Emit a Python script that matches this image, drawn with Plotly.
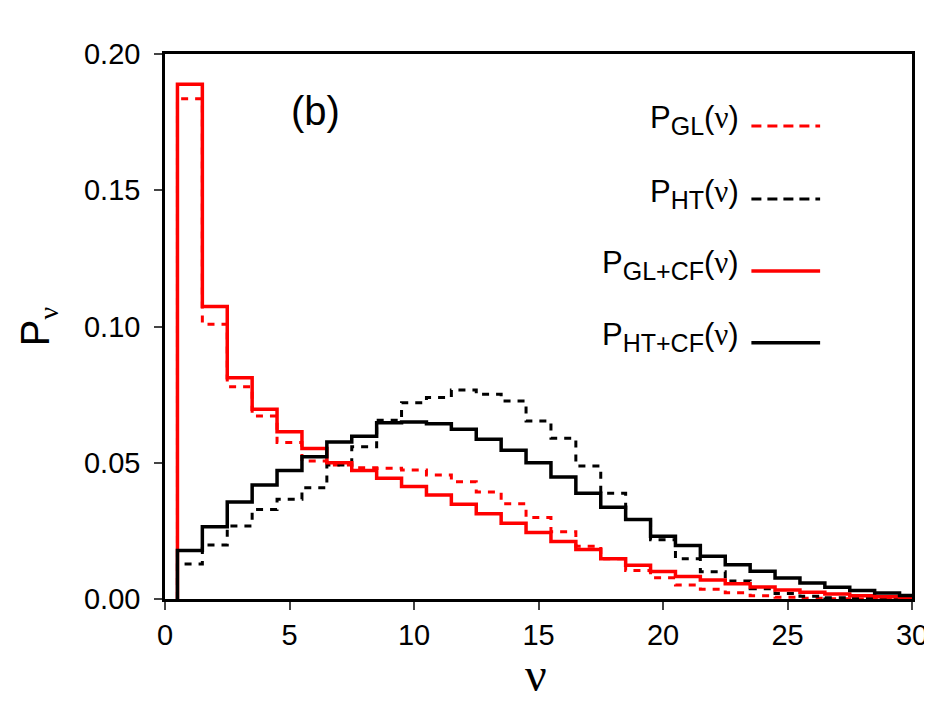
import plotly.graph_objects as go

# nu = 1..30, one bin per integer (edges at nu +- 0.5)
nu = list(range(1, 31))

p_gl = [0.1836, 0.1008, 0.0779, 0.0672, 0.0574, 0.0506, 0.0492, 0.0482, 0.0480, 0.0473,
        0.0455, 0.0430, 0.0393, 0.0350, 0.0299, 0.0247, 0.0194, 0.0148, 0.0105, 0.0078,
        0.0051, 0.0036, 0.0023, 0.0012, 0.0006, 0.0003, 0.0001, 0.0, 0.0, 0.0]
p_ht = [0.0128, 0.0198, 0.0268, 0.0328, 0.0366, 0.0408, 0.0492, 0.0559, 0.0656, 0.0720,
        0.0739, 0.0767, 0.0751, 0.0727, 0.0653, 0.0590, 0.0488, 0.0388, 0.0292, 0.0217,
        0.0148, 0.0100, 0.0066, 0.0038, 0.0020, 0.0010, 0.0005, 0.0002, 0.0001, 0.0]
p_gl_cf = [0.1889, 0.1073, 0.0812, 0.0696, 0.0614, 0.0552, 0.0500, 0.0472, 0.0443, 0.0413,
           0.0382, 0.0348, 0.0313, 0.0278, 0.0244, 0.0211, 0.0182, 0.0148, 0.0124, 0.0101,
           0.0083, 0.0070, 0.0056, 0.0044, 0.0033, 0.0025, 0.0018, 0.0012, 0.0008, 0.0005]
p_ht_cf = [0.0178, 0.0265, 0.0356, 0.0418, 0.0472, 0.0522, 0.0576, 0.0597, 0.0647, 0.0650,
           0.0643, 0.0623, 0.0586, 0.0546, 0.0500, 0.0448, 0.0388, 0.0337, 0.0292, 0.0230,
           0.0196, 0.0157, 0.0126, 0.0102, 0.0077, 0.0059, 0.0043, 0.0031, 0.0022, 0.0013]

x_ticks = [0, 5, 10, 15, 20, 25, 30]
y_ticks = [0.00, 0.05, 0.10, 0.15, 0.20]

NU = '<span style="font-family:Liberation Serif">ν</span>'


def sub(s):
    return '<sub><span style="font-size:25px">' + s + '</span></sub>'


labels = ['P' + sub('GL') + '(' + NU + ')', 'P' + sub('HT') + '(' + NU + ')',
          'P' + sub('GL+CF') + '(' + NU + ')', 'P' + sub('HT+CF') + '(' + NU + ')']
series = [p_gl, p_ht, p_gl_cf, p_ht_cf]
colors = ['#ff0000', '#000000', '#ff0000', '#000000']
dashes = ['7px,7px', '7px,7px', 'solid', 'solid']
widths = [3, 3, 3.5, 3.5]


def steps(vals):
    # edges for an 'hv' step line, starting from zero at the left edge
    xs = [nu[0] - 0.5] + [n - 0.5 for n in nu] + [nu[-1] + 0.5]
    ys = [0] + list(vals) + [vals[-1]]
    return xs, ys


fig = go.Figure()
for vals, c, d, w in zip(series, colors, dashes, widths):
    xs, ys = steps(vals)
    fig.add_trace(go.Scatter(x=xs, y=ys, mode='lines', line_shape='hv',
                             line=dict(color=c, width=w, dash=d),
                             showlegend=False, cliponaxis=True))

# legend drawn by hand: text on the left, line sample on the right
leg_y = [0.868, 0.734, 0.602, 0.470]
leg_dash = ['10px,6px', '10px,6px', 'solid', 'solid']
for lab, yy, c, d, w in zip(labels, leg_y, colors, leg_dash, widths):
    fig.add_annotation(x=0.771, y=yy + 0.010, xref='paper', yref='paper', text=lab,
                       showarrow=False, xanchor='right', yanchor='middle',
                       font=dict(size=31, color='black'))
    fig.add_shape(type='line', xref='paper', yref='paper', x0=0.785, x1=0.877,
                  y0=yy, y1=yy, line=dict(color=c, width=w, dash=d))

fig.add_annotation(x=0.201, y=0.895, xref='paper', yref='paper', text='(b)',
                   showarrow=False, xanchor='center', yanchor='middle',
                   font=dict(size=40, color='black'))

# x-axis title
fig.add_annotation(x=0.497, y=-0.086, xref='paper', yref='paper', text='ν',
                   showarrow=False, xanchor='center', yanchor='top',
                   font=dict(size=48, family='Liberation Serif', color='black'))

fig.update_layout(
    width=932, height=720,
    margin=dict(l=157, r=28, t=46, b=129),
    plot_bgcolor='white', paper_bgcolor='white',
    font=dict(family='Liberation Sans', size=29, color='black'),
)
fig.update_xaxes(range=[0, 30], tickvals=x_ticks, ticks='outside', ticklen=8, tickwidth=2,
                 showline=True, linewidth=2.5, linecolor='black', mirror=True,
                 showgrid=False, zeroline=False, tickfont=dict(size=29))
fig.update_yaxes(range=[0, 0.2], tickvals=y_ticks, tickformat='.2f', ticks='outside',
                 ticklen=8, tickwidth=2, ticklabelstandoff=8, tickfont=dict(size=29),
                 showline=True, linewidth=2.5, linecolor='black', mirror=True,
                 showgrid=False, zeroline=False,
                 title=dict(text='P<sub>' + NU + '</sub>', font=dict(size=40), standoff=22))

fig.write_html("out.html")
